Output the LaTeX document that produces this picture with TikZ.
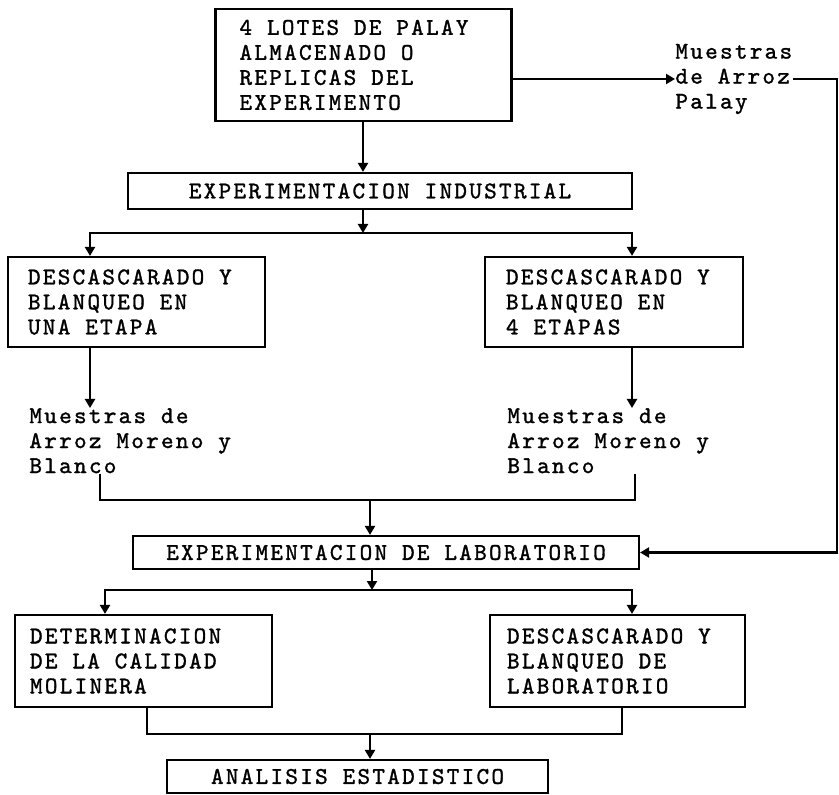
\documentclass[tikz,border=0pt]{standalone}
\usepackage{fontspec}
\usepackage{tikz}
\usetikzlibrary{arrows.meta, positioning}

\newfontfamily\typefont{lmmono10-regular.otf}[LetterSpace=9.5, FakeBold=1.3]
\newcommand{\typew}{\fontsize{12}{12.5}\typefont}

\begin{document}
\begin{tikzpicture}[
  x=0.5pt, y=-0.5pt,
  every node/.style={font=\typew},
  lotbox/.style={rectangle, draw, line width=1.1pt, align=flush left, inner ysep=0pt},
  bar/.style={rectangle, draw, line width=1.1pt, align=center, inner sep=0pt},
  sample/.style={align=left, inner sep=0pt, anchor=north west},
  arr/.style={-{Triangle[length=4.5pt,width=5pt]}, line width=1.1pt},
  conn/.style={line width=1.1pt}
]
\useasboundingbox (0,0) rectangle (839,795);

% columns and forks
\coordinate (colM) at (363,0);
\coordinate (colL) at (90,0);
\coordinate (colR) at (632,0);
\coordinate (colLL) at (105,0);
\coordinate (outL) at (147,0);
\coordinate (outR) at (622,0);
\coordinate (turn) at (837,0);
\coordinate (forkA) at (363,233);
\coordinate (joinA) at (370,500);
\coordinate (forkB) at (372,590);
\coordinate (joinB) at (370,734);

\node[lotbox, text width=124pt, inner xsep=12pt, minimum height=56pt] (lotes)
  at (363.5,65) {4 LOTES DE PALAY\\ALMACENADO O\\REPLICAS DEL\\EXPERIMENTO};
\node[sample, anchor=west] (palay) at (675,79) {Muestras\\de Arroz\\Palay};
\node[bar, minimum width=252pt, minimum height=18pt] (ind)
  at (380,191) {EXPERIMENTACION INDUSTRIAL};

\node[lotbox, text width=108.5pt, inner xsep=10pt, minimum height=45pt] (una)
  at (136.5,302) {DESCASCARADO Y\\BLANQUEO EN\\UNA ETAPA};
\node[lotbox, text width=108pt, inner xsep=10.5pt, minimum height=45pt] (cuatro)
  at (614,302) {DESCASCARADO Y\\BLANQUEO EN\\4 ETAPAS};
\node[sample] (mUna) at (29,408) {Muestras de\\Arroz Moreno y\\Blanco};
\node[sample] (mCuatro) at (507,408) {Muestras de\\Arroz Moreno y\\Blanco};

\node[bar, minimum width=253pt, minimum height=16.5pt] (lab)
  at (386,552.5) {EXPERIMENTACION DE LABORATORIO};
\node[lotbox, text width=113.5pt, inner xsep=7.5pt, minimum height=46pt] (moli)
  at (143.5,661) {DETERMINACION\\DE LA CALIDAD\\MOLINERA};
\node[lotbox, text width=110.5pt, inner xsep=8.5pt, minimum height=46pt] (desc)
  at (617.5,661) {DESCASCARADO Y\\BLANQUEO DE\\LABORATORIO};
\node[bar, minimum width=190.5pt, minimum height=16.5pt] (ana)
  at (357.5,776.5) {ANALISIS ESTADISTICO};

% industrial stage
\draw[arr] (lotes.south -| colM) -- (ind.north -| colM);
\draw[arr] (lotes.east |- palay.west) -- (palay.west);
\draw[arr] (palay.east) -- (palay.east -| turn) |- (lab.east);
\draw[arr] (ind.south -| forkA) -- (forkA);
\draw[arr] (forkA) -| (una.north -| colL);
\draw[arr] (forkA) -| (cuatro.north -| colR);
\draw[arr] (una.south -| colL) -- (mUna.north -| colL);
\draw[arr] (cuatro.south -| colR) -- (mCuatro.north -| colR);

% laboratory stage
\draw[conn] ([xshift=35.5pt]mUna.south west) |- (joinA)
  -| ([xshift=64pt]mCuatro.south west);
\draw[arr] (joinA) -- (lab.north -| joinA);
\draw[arr] (lab.south -| forkB) -- (forkB);
\draw[arr] (forkB) -| (moli.north -| colLL);
\draw[arr] (forkB) -| (desc.north -| colR);
\draw[conn] (moli.south -| outL) |- (joinB) -| (desc.south -| outR);
\draw[arr] (joinB) -- (ana.north -| joinB);

\end{tikzpicture}
\end{document}
